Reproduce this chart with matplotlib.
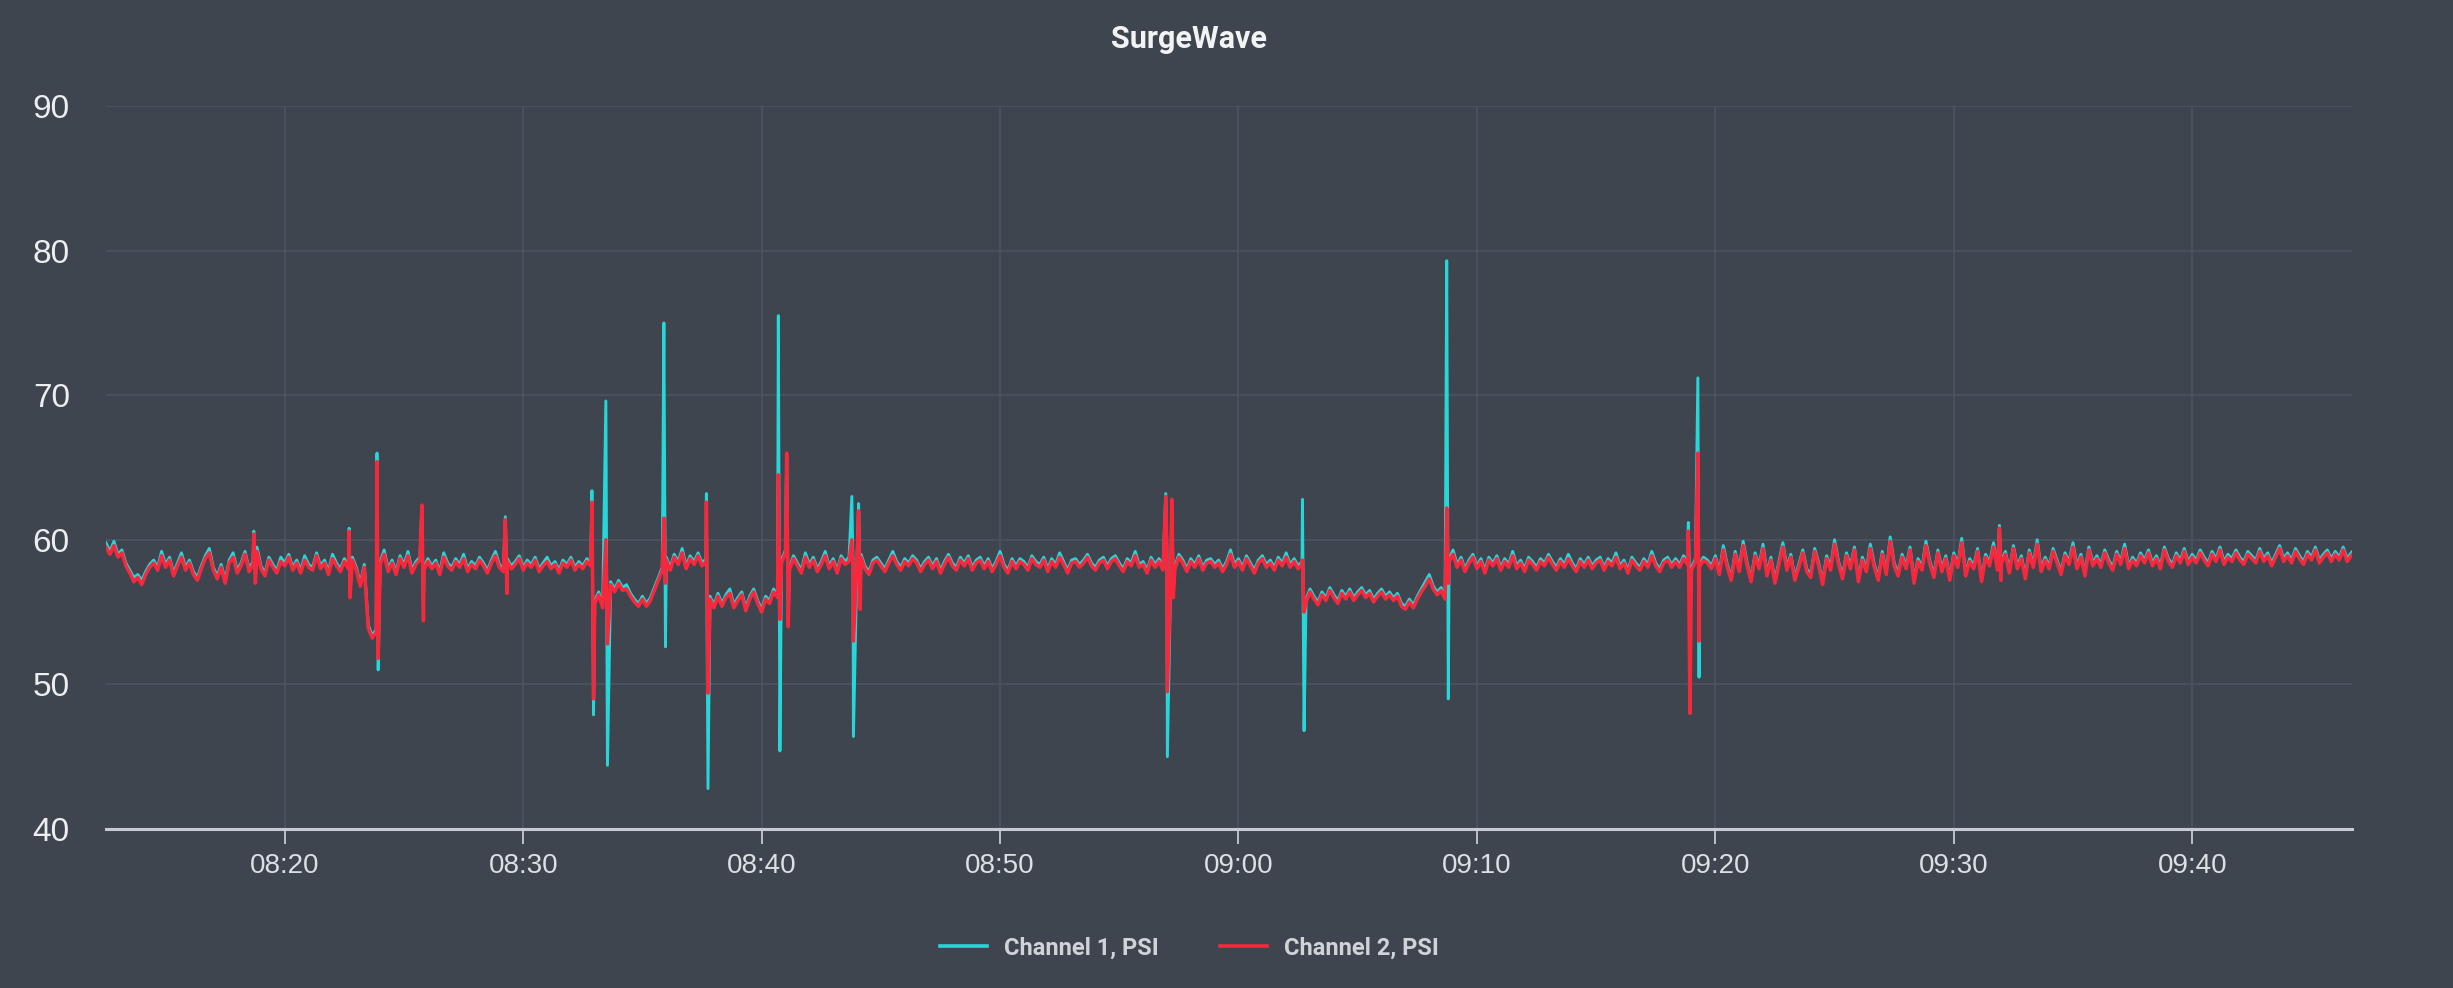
import numpy as np
import matplotlib
matplotlib.use("Agg")
import matplotlib.pyplot as plt
import matplotlib.dates as mdates

# regular samples every 10 s starting 08:12:30
BASE_START = "2024-05-01T08:12:30"
STEP_S = 10

ch1_values = [
    # 08:12:30 - 08:23:20
    59.8, 59.2, 59.9, 59.0, 59.3, 58.4, 57.9, 57.4, 57.6, 57.2, 57.8, 58.3,
    58.6, 58.1, 59.2, 58.3, 58.8, 57.7, 58.4, 59.1, 58.1, 58.6, 57.8, 57.4,
    58.2, 58.9, 59.4, 58.1, 57.5, 58.3, 57.2, 58.6, 59.1, 57.9, 58.4, 59.2,
    58.0, 58.5, 59.5, 58.2, 57.7, 58.8, 58.3, 57.9, 58.8, 58.4, 59.0, 58.1,
    58.6, 57.9, 58.9, 58.3, 58.1, 59.1, 58.2, 58.6, 57.8, 59.0, 58.4, 58.0,
    58.7, 58.2, 58.8, 58.1, 57.0, 58.3,
    # dip 08:23:30 - 08:23:50
    54.1, 53.4, 53.8,
    # 08:24:00 - 08:32:50
    58.5, 59.3, 58.0, 58.6, 57.8, 58.9, 58.3, 59.2, 57.9, 58.5, 58.8, 58.1,
    58.7, 58.2, 58.6, 57.8, 59.1, 58.4, 58.1, 58.7, 58.3, 59.0, 58.0, 58.5,
    58.2, 58.8, 58.4, 57.9, 58.6, 59.2, 58.3, 58.0, 58.7, 58.2, 58.5, 58.9,
    58.1, 58.6, 58.3, 58.8, 58.0, 58.4, 58.8, 58.2, 58.5, 57.9, 58.6, 58.3,
    58.8, 58.1, 58.5, 58.2, 58.7, 58.4,
    # 08:33:00 - 08:35:50
    55.8, 56.4, 55.5, 56.7, 57.1, 56.6, 57.2, 56.7, 56.9, 56.3, 55.9, 55.6,
    56.1, 55.6, 56.0, 56.7, 57.4, 58.1,
    # 08:36:00 - 08:37:40
    58.8, 58.1, 59.0, 58.5, 59.4, 58.2, 58.9, 58.5, 59.1, 58.4, 58.7,
    # 08:37:50 - 08:40:40
    56.1, 55.5, 56.3, 55.6, 56.2, 56.6, 55.5, 56.0, 56.4, 55.3, 56.1, 56.6,
    55.8, 55.2, 56.1, 55.8, 56.6, 56.2,
    # 08:40:50 - 09:02:40
    58.6, 59.3, 58.1, 58.9, 58.4, 57.9, 59.1, 58.3, 58.8, 58.0, 58.5, 59.2,
    58.2, 58.7, 57.9, 58.9, 58.5, 58.8, 58.1, 58.6, 59.0, 58.2, 57.8, 58.6,
    58.8, 58.4, 58.0, 58.6, 59.2, 58.5, 58.1, 58.7, 58.4, 58.9, 58.6, 58.0,
    58.5, 58.8, 58.2, 58.7, 57.9, 58.5, 59.0, 58.4, 58.1, 58.8, 58.4, 58.9,
    58.1, 58.6, 58.8, 58.2, 58.7, 58.0, 58.5, 59.2, 58.3, 57.9, 58.7, 58.2,
    58.7, 58.5, 58.1, 58.9, 58.5, 58.3, 58.8, 58.0, 58.7, 58.3, 59.1, 58.5,
    57.9, 58.6, 58.7, 58.3, 58.6, 59.0, 58.4, 58.1, 58.6, 58.8, 58.2, 58.7,
    58.9, 58.4, 58.0, 58.7, 58.4, 59.2, 58.3, 58.5, 57.9, 58.8, 58.3, 58.7,
    58.1, 58.9, 58.4, 58.2, 59.0, 58.6, 58.0, 58.7, 58.3, 58.9, 58.1, 58.6,
    58.7, 58.3, 58.6, 58.0, 58.5, 59.3, 58.3, 58.7, 58.1, 58.9, 58.4, 57.9,
    58.6, 58.9, 58.3, 58.6, 58.1, 58.8, 58.4, 59.1, 58.3, 58.7, 58.2, 58.5,
    # 09:02:50 - 09:08:40
    55.9, 56.6, 56.1, 55.7, 56.4, 56.0, 56.7, 56.2, 55.8, 56.5, 56.1, 56.6,
    56.0, 56.4, 56.7, 56.2, 56.5, 55.9, 56.3, 56.6, 56.1, 56.4, 56.0, 56.3,
    55.6, 55.4, 55.9, 55.5, 56.1, 56.6, 57.1, 57.6, 56.8, 56.4, 56.7, 56.1,
    # 09:08:50 - 09:19:50
    58.7, 59.3, 58.3, 58.8, 58.0, 58.6, 59.0, 58.2, 58.7, 57.9, 58.8, 58.4,
    58.9, 58.1, 58.7, 58.3, 59.2, 58.2, 58.6, 58.0, 58.8, 58.5, 58.1, 58.7,
    58.4, 59.0, 58.5, 58.1, 58.7, 58.3, 59.0, 58.4, 58.0, 58.7, 58.3, 58.8,
    58.2, 58.6, 58.8, 58.1, 58.7, 58.4, 59.1, 58.2, 58.6, 57.9, 58.8, 58.4,
    58.1, 58.7, 58.3, 59.2, 58.4, 58.0, 58.6, 58.8, 58.3, 58.7, 58.3, 58.9,
    58.5, 58.1, 58.7, 58.3, 58.8, 58.6, 58.2,
    # 09:20:00 - 09:46:50
    58.9, 57.8, 59.6, 58.3, 57.4, 59.2, 58.0, 59.9, 58.4, 57.3, 59.1, 58.2,
    59.7, 57.7, 58.8, 57.2, 58.5, 59.8, 58.1, 59.0, 57.4, 58.3, 59.3, 58.0,
    57.6, 59.4, 58.4, 57.1, 58.9, 58.1, 60.0, 58.5, 57.5, 59.1, 58.2, 59.5,
    57.3, 58.8, 58.0, 59.7, 58.3, 57.4, 59.2, 57.8, 60.2, 58.4, 57.7, 59.0,
    58.2, 59.5, 57.2, 58.7, 58.1, 59.9, 58.5, 57.6, 59.3, 58.0, 58.9, 57.4,
    59.1, 58.3, 60.1, 57.7, 58.7, 58.2, 59.4, 57.3, 59.0, 58.4, 59.8, 58.1,
    58.6, 59.2, 57.9, 59.6, 58.2, 58.9, 57.5, 59.3, 58.3, 60.0, 58.0, 58.8,
    58.2, 59.4, 58.6, 57.8, 59.1, 58.5, 59.8, 58.2, 59.0, 57.7, 59.5, 58.4,
    58.9, 58.3, 59.3, 58.6, 58.1, 59.2, 58.5, 59.7, 58.2, 58.8, 58.4, 59.1,
    58.6, 59.3, 58.4, 58.9, 58.2, 59.5, 58.7, 58.3, 59.1, 58.6, 59.4, 58.5,
    59.0, 58.6, 59.3, 58.8, 58.4, 59.2, 58.7, 59.5, 58.5, 59.0, 58.7, 59.3,
    58.8, 58.5, 59.2, 58.9, 58.6, 59.4, 58.7, 59.1, 58.4, 59.0, 59.6, 58.7,
    59.1, 58.6, 59.4, 58.9, 58.5, 59.2, 58.8, 59.5, 58.6, 59.0, 59.3, 58.7,
    59.2, 58.8, 59.5, 58.7, 59.1, 59.4,
]

ch2_values = [
    59.5, 59.0, 59.6, 58.8, 59.1, 58.2, 57.7, 57.1, 57.4, 56.9, 57.6, 58.1,
    58.4, 57.9, 58.9, 58.1, 58.6, 57.5, 58.2, 58.8, 57.9, 58.4, 57.6, 57.2,
    58.0, 58.7, 59.1, 57.9, 57.3, 58.1, 57.0, 58.4, 58.8, 57.7, 58.2, 59.0,
    57.8, 58.3, 59.2, 58.0, 57.5, 58.6, 58.1, 57.7, 58.5, 58.2, 58.8, 57.9,
    58.4, 57.7, 58.6, 58.1, 57.9, 58.9, 58.0, 58.4, 57.6, 58.7, 58.2, 57.8,
    58.5, 58.0, 58.6, 57.9, 56.8, 58.1,
    53.9, 53.2, 53.6,
    58.3, 59.0, 57.8, 58.4, 57.6, 58.7, 58.1, 58.9, 57.7, 58.3, 58.6, 57.9,
    58.5, 58.0, 58.4, 57.6, 58.8, 58.2, 57.9, 58.5, 58.1, 58.7, 57.8, 58.3,
    58.0, 58.6, 58.2, 57.7, 58.4, 58.9, 58.1, 57.8, 58.5, 58.0, 58.3, 58.7,
    57.9, 58.4, 58.1, 58.6, 57.8, 58.2, 58.5, 58.0, 58.3, 57.7, 58.4, 58.1,
    58.6, 57.9, 58.3, 58.0, 58.5, 58.2,
    55.6, 56.2, 55.3, 56.5, 56.9, 56.4, 57.0, 56.5, 56.6, 56.1, 55.7, 55.4,
    55.9, 55.4, 55.8, 56.5, 57.2, 57.9,
    58.6, 57.9, 58.8, 58.3, 59.1, 58.0, 58.7, 58.3, 58.9, 58.2, 58.5,
    55.9, 55.3, 56.1, 55.4, 56.0, 56.3, 55.3, 55.8, 56.2, 55.1, 55.9, 56.4,
    55.6, 55.0, 55.9, 55.6, 56.4, 56.0,
    58.4, 59.1, 57.9, 58.7, 58.2, 57.7, 58.8, 58.1, 58.6, 57.8, 58.3, 58.9,
    58.0, 58.5, 57.7, 58.7, 58.3, 58.5, 57.9, 58.4, 58.8, 58.0, 57.6, 58.4,
    58.6, 58.2, 57.8, 58.4, 58.9, 58.3, 57.9, 58.5, 58.2, 58.7, 58.4, 57.8,
    58.3, 58.6, 58.0, 58.5, 57.7, 58.3, 58.8, 58.2, 57.9, 58.6, 58.2, 58.7,
    57.9, 58.4, 58.6, 58.0, 58.5, 57.8, 58.3, 58.9, 58.1, 57.7, 58.5, 58.0,
    58.5, 58.3, 57.9, 58.7, 58.3, 58.1, 58.6, 57.8, 58.5, 58.1, 58.8, 58.3,
    57.7, 58.4, 58.5, 58.1, 58.4, 58.8, 58.2, 57.9, 58.4, 58.6, 58.0, 58.5,
    58.7, 58.2, 57.8, 58.5, 58.2, 58.9, 58.1, 58.3, 57.7, 58.6, 58.1, 58.5,
    57.9, 58.7, 58.2, 58.0, 58.8, 58.4, 57.8, 58.5, 58.1, 58.7, 57.9, 58.4,
    58.5, 58.1, 58.4, 57.8, 58.3, 59.0, 58.1, 58.5, 57.9, 58.7, 58.2, 57.7,
    58.4, 58.7, 58.1, 58.4, 57.9, 58.6, 58.2, 58.8, 58.1, 58.5, 58.0, 58.3,
    55.7, 56.4, 55.9, 55.5, 56.2, 55.8, 56.5, 56.0, 55.6, 56.3, 55.9, 56.4,
    55.8, 56.2, 56.5, 56.0, 56.3, 55.7, 56.1, 56.4, 55.9, 56.2, 55.8, 56.1,
    55.4, 55.2, 55.7, 55.3, 55.9, 56.4, 56.8, 57.3, 56.6, 56.2, 56.5, 55.9,
    58.5, 59.0, 58.1, 58.6, 57.8, 58.4, 58.8, 58.0, 58.5, 57.7, 58.6, 58.2,
    58.7, 57.9, 58.5, 58.1, 58.9, 58.0, 58.4, 57.8, 58.6, 58.3, 57.9, 58.5,
    58.2, 58.8, 58.3, 57.9, 58.5, 58.1, 58.7, 58.2, 57.8, 58.5, 58.1, 58.6,
    58.0, 58.4, 58.6, 57.9, 58.5, 58.2, 58.8, 58.0, 58.4, 57.7, 58.6, 58.2,
    57.9, 58.5, 58.1, 58.9, 58.2, 57.8, 58.4, 58.6, 58.1, 58.5, 58.1, 58.7,
    58.3, 57.9, 58.5, 58.1, 58.6, 58.4, 58.0,
    58.7, 57.6, 59.3, 58.1, 57.2, 59.0, 57.8, 59.6, 58.2, 57.1, 58.9, 58.0,
    59.4, 57.5, 58.6, 57.0, 58.3, 59.5, 57.9, 58.8, 57.2, 58.1, 59.1, 57.8,
    57.4, 59.2, 58.2, 56.9, 58.7, 57.9, 59.7, 58.3, 57.3, 58.9, 58.0, 59.3,
    57.1, 58.6, 57.8, 59.4, 58.1, 57.2, 59.0, 57.6, 59.9, 58.2, 57.5, 58.8,
    58.0, 59.3, 57.0, 58.5, 57.9, 59.6, 58.3, 57.4, 59.1, 57.8, 58.7, 57.2,
    58.9, 58.1, 59.8, 57.5, 58.5, 58.0, 59.2, 57.1, 58.8, 58.2, 59.5, 57.9,
    58.4, 59.0, 57.7, 59.4, 58.0, 58.7, 57.3, 59.1, 58.1, 59.7, 57.8, 58.6,
    58.0, 59.2, 58.4, 57.6, 58.9, 58.3, 59.5, 58.0, 58.8, 57.5, 59.3, 58.2,
    58.7, 58.1, 59.1, 58.4, 57.9, 59.0, 58.3, 59.4, 58.0, 58.6, 58.2, 58.9,
    58.4, 59.1, 58.2, 58.7, 58.0, 59.3, 58.5, 58.1, 58.9, 58.4, 59.2, 58.3,
    58.8, 58.4, 59.1, 58.6, 58.2, 59.0, 58.5, 59.3, 58.3, 58.8, 58.5, 59.1,
    58.6, 58.3, 59.0, 58.7, 58.4, 59.2, 58.5, 58.9, 58.2, 58.8, 59.4, 58.5,
    58.9, 58.4, 59.2, 58.7, 58.3, 59.0, 58.6, 59.3, 58.4, 58.8, 59.1, 58.5,
    59.0, 58.6, 59.3, 58.5, 58.9, 59.2,
]

# surge events, sampled between the regular points
spike_clock = [
    "08:18:42", "08:18:46", "08:22:42", "08:22:44",
    "08:23:52", "08:23:55", "08:25:45", "08:25:49",
    "08:29:15", "08:29:19", "08:32:53", "08:32:57",
    "08:33:28", "08:33:32", "08:35:54", "08:35:58",
    "08:37:41", "08:37:45", "08:40:42", "08:40:46",
    "08:41:03", "08:41:07", "08:43:47", "08:43:51",
    "08:44:04", "08:44:08", "08:56:57", "08:57:01",
    "08:57:12", "08:57:16", "09:02:41", "09:02:45",
    "09:08:44", "09:08:48", "09:18:52", "09:18:56",
    "09:19:16", "09:19:19", "09:31:55", "09:31:59",
]
spike_ch1 = [
    60.6, 57.4, 60.8, 56.2,
    66.0, 51.0, 62.2, 54.8,
    61.6, 56.6, 63.4, 47.9,
    69.6, 44.4, 75.0, 52.6,
    63.2, 42.8, 75.5, 45.4,
    65.8, 54.6, 63.0, 46.4,
    62.5, 56.0, 63.2, 45.0,
    62.6, 56.8, 62.8, 46.8,
    79.3, 49.0, 61.2, 56.0,
    71.2, 50.5, 61.0, 57.6,
]
spike_ch2 = [
    60.4, 57.0, 60.6, 56.0,
    65.4, 51.8, 62.4, 54.4,
    61.4, 56.3, 62.6, 49.0,
    60.0, 52.8, 61.5, 57.0,
    62.6, 49.4, 64.5, 54.5,
    66.0, 54.0, 60.0, 53.0,
    62.0, 55.2, 63.0, 49.5,
    62.8, 56.0, 58.6, 55.0,
    62.2, 57.0, 60.6, 48.0,
    66.0, 53.0, 60.8, 57.2,
]

y_ticks = [40, 50, 60, 70, 80, 90]
x_start = "2024-05-01T08:12:30"
x_end = "2024-05-01T09:46:42"

BG = "#3e454e"
GRID = "#4d5563"
CYAN = "#27d6d9"
RED = "#f8283c"

assert len(ch1_values) == len(ch2_values)
base_times = np.datetime64(BASE_START) + np.arange(len(ch1_values)) * np.timedelta64(STEP_S, "s")
spike_times = np.array(["2024-05-01T" + c for c in spike_clock], dtype="datetime64[s]")
times = np.concatenate([base_times.astype("datetime64[s]"), spike_times])
ch1 = np.concatenate([ch1_values, spike_ch1])
ch2 = np.concatenate([ch2_values, spike_ch2])
order = np.argsort(times, kind="stable")
times, ch1, ch2 = times[order], ch1[order], ch2[order]

fig = plt.figure(figsize=(24.53, 9.88), dpi=100, facecolor=BG)
ax = fig.add_axes([0.0432, 0.1609, 0.9156, 0.7318])
ax.set_facecolor(BG)

ax.plot(times, ch1, color=CYAN, lw=2.1, label="Channel 1, PSI", zorder=3)
ax.plot(times, ch2, color=RED, lw=2.5, label="Channel 2, PSI", zorder=4)

ax.set_ylim(40, 90)
ax.set_yticks(y_ticks)
ax.set_xlim(np.datetime64(x_start), np.datetime64(x_end))
ax.xaxis.set_major_locator(mdates.MinuteLocator(byminute=range(0, 60, 10)))
ax.xaxis.set_major_formatter(mdates.DateFormatter("%H:%M"))

ax.grid(True, color=GRID, lw=1.1, zorder=0)
for side in ["top", "right", "left"]:
    ax.spines[side].set_visible(False)
ax.spines["bottom"].set_color("#c6cad3")
ax.spines["bottom"].set_linewidth(2.2)
ax.spines["bottom"].set_zorder(5)

ax.tick_params(axis="y", length=0, pad=26, labelsize=24, labelcolor="#eceef0")
ax.tick_params(axis="x", length=11, width=1.3, color="#c6cad3", pad=6,
               labelsize=20, labelcolor="#dcdfe3")
for lbl in ax.get_yticklabels() + ax.get_xticklabels():
    lbl.set_fontfamily("Liberation Sans")

fig.text(0.4847, 0.9605, "SurgeWave", ha="center", va="center",
         fontsize=22, fontweight="bold", color="#f2f3f5", family="Roboto")

leg = fig.legend(loc="center", bbox_to_anchor=(0.4849, 0.0405), ncol=2,
                 frameon=False, handlelength=2.0, handletextpad=0.7,
                 columnspacing=2.6,
                 prop={"family": "Roboto", "size": 17, "weight": "bold"})
for txt in leg.get_texts():
    txt.set_color("#cfd2d7")
for line in leg.get_lines():
    line.set_linewidth(2.6)

fig.savefig("out.png", dpi=100, facecolor=BG)
